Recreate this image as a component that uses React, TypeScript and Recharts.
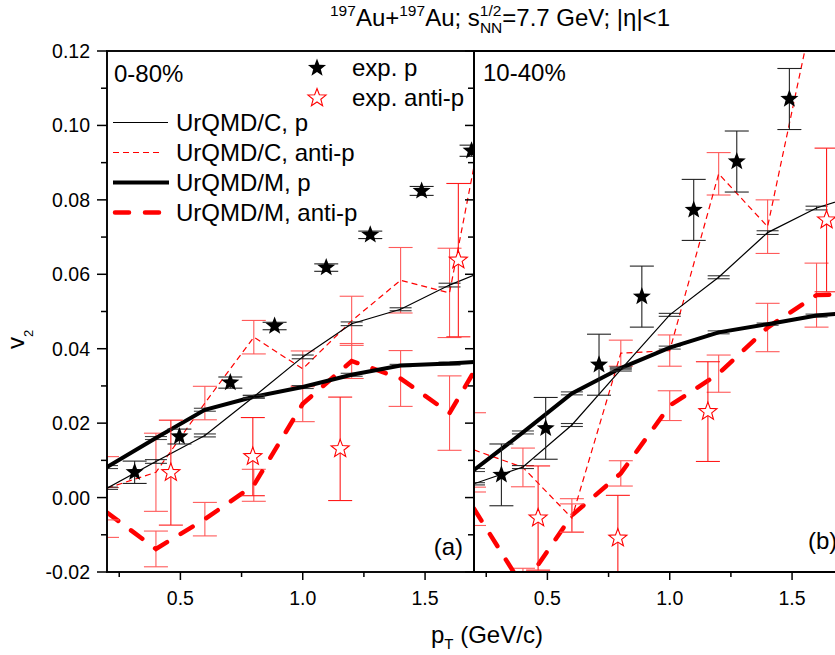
import React from 'react';
import { ComposedChart, Line, Scatter, XAxis, YAxis, ErrorBar } from 'recharts';

const FONT = '"Liberation Sans", Arial, Helvetica, sans-serif';

// model points are on a 0.2 GeV/c grid
const pT = [0.2, 0.4, 0.6, 0.8, 1.0, 1.2, 1.4, 1.6, 1.8];
const xTicks = [0.25, 0.5, 0.75, 1.0, 1.25, 1.5];
const yTicks = [-0.02, -0.01, 0, 0.01, 0.02, 0.03, 0.04, 0.05, 0.06, 0.07, 0.08, 0.09, 0.1, 0.11, 0.12];

// (a) 0-80%
const aCp = [0.0025, 0.0097, 0.0167, 0.0271, 0.0378, 0.0467, 0.0506, 0.0571, 0.0625];
const aCpErr = [0.0003, 0.0005, 0.0004, 0.0004, 0.0005, 0.0005, 0.0004, 0.0005, 0.0005];
const aCap = [0.0025, 0.0068, 0.0254, 0.0431, 0.0346, 0.0475, 0.0584, 0.055, 0.123];
const aCapErr = [0.0085, 0.0105, 0.0045, 0.0045, 0.0048, 0.0066, 0.0088, 0.012, 0.01];
const aMp = [0.0082, 0.016, 0.0236, 0.0271, 0.0297, 0.033, 0.0355, 0.036, 0.0368];
const aMpErr = [0.0004, 0.0004, 0.0004, 0.0003, 0.0004, 0.0004, 0.0003, 0.0004, 0.0004];
const aMap = [-0.004, -0.0138, -0.0058, 0.0033, 0.0252, 0.0367, 0.032, 0.0227, 0.045];
const aMapErr = [0.0067, 0.0048, 0.0045, 0.0043, 0.0048, 0.0047, 0.0075, 0.01, 0.01];
const aExpPx = [0.313, 0.496, 0.704, 0.885, 1.096, 1.276, 1.486, 1.69];
const aExpP = [0.0068, 0.0164, 0.0309, 0.0461, 0.0618, 0.0706, 0.0824, 0.0932];
const aExpPErr = [0.003, 0.002, 0.0015, 0.001, 0.001, 0.001, 0.0012, 0.0015];
const aExpAPx = [0.461, 0.796, 1.153, 1.636];
const aExpAP = [0.0067, 0.011, 0.0131, 0.0638];
const aExpAPErr = [0.0141, 0.0105, 0.0139, 0.0206];

// (b) 10-40%
const bCp = [0.0037, 0.0082, 0.0195, 0.0344, 0.0491, 0.0592, 0.0712, 0.0778, 0.082];
const bCpErr = [0.0003, 0.0004, 0.0004, 0.0004, 0.0004, 0.0004, 0.0005, 0.0005, 0.0005];
const bCap = [0.0128, 0.0081, -0.0055, 0.0388, 0.0395, 0.087, 0.0728, 0.135];
const bCapErr = [0.01, 0.0052, 0.0038, 0.0035, 0.0042, 0.0057, 0.0072, 0.01];
const bMp = [0.0074, 0.0175, 0.028, 0.0348, 0.0403, 0.0444, 0.0466, 0.0489, 0.05];
const bMpErr = [0.0004, 0.0004, 0.0004, 0.0003, 0.0004, 0.0004, 0.0003, 0.0004, 0.0004];
const bMap = [-0.003, -0.024, -0.0048, 0.0065, 0.0247, 0.0333, 0.0457, 0.0544, 0.0548];
const bMapErr = [0.0045, 0.005, 0.0045, 0.0034, 0.004, 0.005, 0.0065, 0.0086, 0.008];
const bExpPx = [0.312, 0.493, 0.711, 0.886, 1.098, 1.274, 1.489];
const bExpP = [0.0061, 0.0186, 0.0357, 0.054, 0.0773, 0.0903, 0.1071];
const bExpPErr = [0.0083, 0.0083, 0.0082, 0.0082, 0.0082, 0.0082, 0.0082];
const bExpAPx = [0.462, 0.788, 1.156, 1.641];
const bExpAP = [-0.0055, -0.0109, 0.0231, 0.0746];
const bExpAPErr = [0.014, 0.0115, 0.0134, 0.0193];

const X_DOMAIN = [0.2, 1.7];
const Y_DOMAIN = [-0.02, 0.12];

// plot box of each panel on the page
const TOP = 51;
const PW = 367;
const PH = 521;
const LEFT_A = 107;
const LEFT_B = 474;

const toPts = (ys: number[], errs: number[], xs: number[] = pT) =>
  ys.map((y, i) => ({ x: xs[i], y, e: errs[i] }));

function starPath(cx: number, cy: number, R: number, r: number) {
  let d = '';
  for (let i = 0; i < 10; i++) {
    const a = -Math.PI / 2 + (i * Math.PI) / 5;
    const rad = i % 2 === 0 ? R : r;
    d += (i ? 'L' : 'M') + (cx + rad * Math.cos(a)).toFixed(2) + ',' + (cy + rad * Math.sin(a)).toFixed(2);
  }
  return d + 'Z';
}

const FilledStar = (p: any) => <path d={starPath(p.cx, p.cy, 9.5, 4)} fill="#000" />;
const OpenStar = (p: any) => (
  <path d={starPath(p.cx, p.cy, 9.5, 4)} fill="#fff" stroke="#ff0000" strokeWidth={1.1} />
);

function Panel({ left, d }: any) {
  const ax = { xAxisId: 'b', yAxisId: 'l', isAnimationActive: false };
  return (
    <div style={{ position: 'absolute', left, top: TOP, width: PW, height: PH, overflow: 'hidden' }}>
      <ComposedChart width={PW} height={PH} margin={{ top: 0, right: 0, bottom: 0, left: 0 }}>
        <XAxis xAxisId="b" type="number" dataKey="x" domain={X_DOMAIN} allowDataOverflow hide />
        <YAxis yAxisId="l" type="number" domain={Y_DOMAIN} allowDataOverflow hide />

        <Line {...ax} data={d.mAP} dataKey="y" type="linear" stroke="#ff0000" strokeWidth={4.5}
          strokeDasharray="14 16" strokeLinecap="round" dot={false}>
          <ErrorBar dataKey="e" direction="y" width={12} stroke="#ff5a5a" strokeWidth={1.1} />
        </Line>
        <Line {...ax} data={d.cAP} dataKey="y" type="linear" stroke="#ff0000" strokeWidth={1.2}
          strokeDasharray="6 4" dot={false}>
          <ErrorBar dataKey="e" direction="y" width={12} stroke="#ff5a5a" strokeWidth={1.1} />
        </Line>
        <Line {...ax} data={d.mP} dataKey="y" type="linear" stroke="#000" strokeWidth={4} dot={false}>
          <ErrorBar dataKey="e" direction="y" width={11} stroke="#444" strokeWidth={1.1} />
        </Line>
        <Line {...ax} data={d.cP} dataKey="y" type="linear" stroke="#000" strokeWidth={1.2} dot={false}>
          <ErrorBar dataKey="e" direction="y" width={11} stroke="#333" strokeWidth={1.1} />
        </Line>
        <Scatter {...ax} data={d.expAP} dataKey="y" shape={(s: any) => <OpenStar {...s} />}>
          <ErrorBar dataKey="e" direction="y" width={12} stroke="#ff1a1a" strokeWidth={1.1} />
        </Scatter>
        <Scatter {...ax} data={d.expP} dataKey="y" shape={(s: any) => <FilledStar {...s} />}>
          <ErrorBar dataKey="e" direction="y" width={12} stroke="#222" strokeWidth={1.1} />
        </Scatter>
      </ComposedChart>
    </div>
  );
}

const panelA = {
  cP: toPts(aCp, aCpErr),
  cAP: toPts(aCap, aCapErr),
  mP: toPts(aMp, aMpErr),
  mAP: toPts(aMap, aMapErr),
  expP: toPts(aExpP, aExpPErr, aExpPx),
  expAP: toPts(aExpAP, aExpAPErr, aExpAPx),
};
const panelB = {
  cP: toPts(bCp, bCpErr),
  cAP: toPts(bCap, bCapErr),
  mP: toPts(bMp, bMpErr),
  mAP: toPts(bMap, bMapErr),
  expP: toPts(bExpP, bExpPErr, bExpPx),
  expAP: toPts(bExpAP, bExpAPErr, bExpAPx),
};

// axis frame helpers (same linear mapping as the chart's own scales)
const sx = (x0: number, v: number) => x0 + ((v - X_DOMAIN[0]) / (X_DOMAIN[1] - X_DOMAIN[0])) * PW;
const sy = (v: number) => TOP + ((Y_DOMAIN[1] - v) / (Y_DOMAIN[1] - Y_DOMAIN[0])) * PH;
const isMajorY = (v: number) => Math.round(v * 100) % 2 === 0;
const isMajorX = (v: number) => Math.round(v * 100) % 50 === 0;

function Frame() {
  const bottom = TOP + PH;
  const k = { stroke: '#000', strokeWidth: 1.5 };
  const f = { stroke: '#000', strokeWidth: 1.9, fill: 'none' };
  return (
    <g>
      <rect x={LEFT_A} y={TOP} width={PW} height={PH} {...f} />
      <path d={`M${LEFT_B},${TOP}H${LEFT_B + PW}M${LEFT_B},${bottom}H${LEFT_B + PW}M${LEFT_B},${TOP}V${bottom}`} {...f} />
      {yTicks.map((v) => (
        <g key={'y' + v}>
          <line x1={LEFT_A} x2={LEFT_A - (isMajorY(v) ? 10 : 6)} y1={sy(v)} y2={sy(v)} {...k} />
          <line x1={LEFT_B} x2={LEFT_B - (isMajorY(v) ? 9 : 6)} y1={sy(v)} y2={sy(v)} {...k} />
          {isMajorY(v) && (
            <text x={LEFT_A - 17} y={sy(v) + 7} textAnchor="end" fontSize={19.5} fontFamily={FONT}>
              {v.toFixed(2)}
            </text>
          )}
        </g>
      ))}
      {[LEFT_A, LEFT_B].map((x0) =>
        xTicks.map((v) => (
          <g key={x0 + 'x' + v}>
            <line x1={sx(x0, v)} x2={sx(x0, v)} y1={bottom} y2={bottom + (isMajorX(v) ? 8 : 5)} {...k} />
            {isMajorX(v) && (
              <text x={sx(x0, v)} y={bottom + 33} textAnchor="middle" fontSize={19.5} fontFamily={FONT}>
                {v.toFixed(1)}
              </text>
            )}
          </g>
        ))
      )}
    </g>
  );
}

export default function App() {
  const lbl = { fontFamily: FONT, fill: '#000' };
  return (
    <div style={{ position: 'absolute', left: 0, top: 0, width: 835, height: 655, overflow: 'hidden', background: '#fff' }}>
      <Panel left={LEFT_A} d={panelA} />
      <Panel left={LEFT_B} d={panelB} />
      <svg width={835} height={655} style={{ position: 'absolute', left: 0, top: 0, pointerEvents: 'none' }}>
        <Frame />

        {/* title */}
        <text x={330} y={26} fontSize={24} {...lbl}>
          <tspan fontSize={15.5} dy={-10}>197</tspan>
          <tspan dy={10}>Au+</tspan>
          <tspan fontSize={15.5} dy={-10}>197</tspan>
          <tspan dy={10}>Au; s</tspan>
          <tspan fontSize={15.5} dy={-10}>1/2</tspan>
          <tspan fontSize={15.5} dx={-21.5} dy={17}>NN</tspan>
          <tspan dy={-7}>=7.7 GeV; |η|&lt;1</tspan>
        </text>

        {/* panel tags */}
        <text x={114} y={82} fontSize={24} {...lbl}>0-80%</text>
        <text x={483} y={81} fontSize={24} {...lbl}>10-40%</text>
        <text x={463} y={555} fontSize={24} textAnchor="end" {...lbl}>(a)</text>
        <text x={808} y={549} fontSize={24} {...lbl}>(b)</text>

        {/* axis titles */}
        <text x={431} y={643} fontSize={24} {...lbl}>
          p<tspan fontSize={15} dy={6}>T</tspan>
          <tspan dy={-6}> (GeV/c)</tspan>
        </text>
        <text x={23.5} y={349} fontSize={24} transform="rotate(-90 23.5 349)" {...lbl}>
          v<tspan fontSize={13} dy={9}>2</tspan>
        </text>

        {/* legend */}
        <path d={starPath(317, 68, 9.5, 4)} fill="#000" />
        <text x={352} y={76} fontSize={24} {...lbl}>exp. p</text>
        <path d={starPath(317, 98, 9.5, 4)} fill="#fff" stroke="#ff0000" strokeWidth={1.1} />
        <text x={352} y={106} fontSize={24} {...lbl}>exp. anti-p</text>
        <line x1={113} x2={168} y1={122.5} y2={122.5} stroke="#000" strokeWidth={1.2} />
        <text x={176} y={130.5} fontSize={24} {...lbl}>UrQMD/C, p</text>
        <line x1={113} x2={160} y1={152.5} y2={152.5} stroke="#ff0000" strokeWidth={1.2} strokeDasharray="6 4" />
        <text x={176} y={160.5} fontSize={24} {...lbl}>UrQMD/C, anti-p</text>
        <line x1={113} x2={169} y1={182.5} y2={182.5} stroke="#000" strokeWidth={4} />
        <text x={176} y={190.5} fontSize={24} {...lbl}>UrQMD/M, p</text>
        <line x1={115} x2={162} y1={212.5} y2={212.5} stroke="#ff0000" strokeWidth={4.5}
          strokeDasharray="14 16" strokeLinecap="round" />
        <text x={176} y={220.5} fontSize={24} {...lbl}>UrQMD/M, anti-p</text>
      </svg>
    </div>
  );
}
